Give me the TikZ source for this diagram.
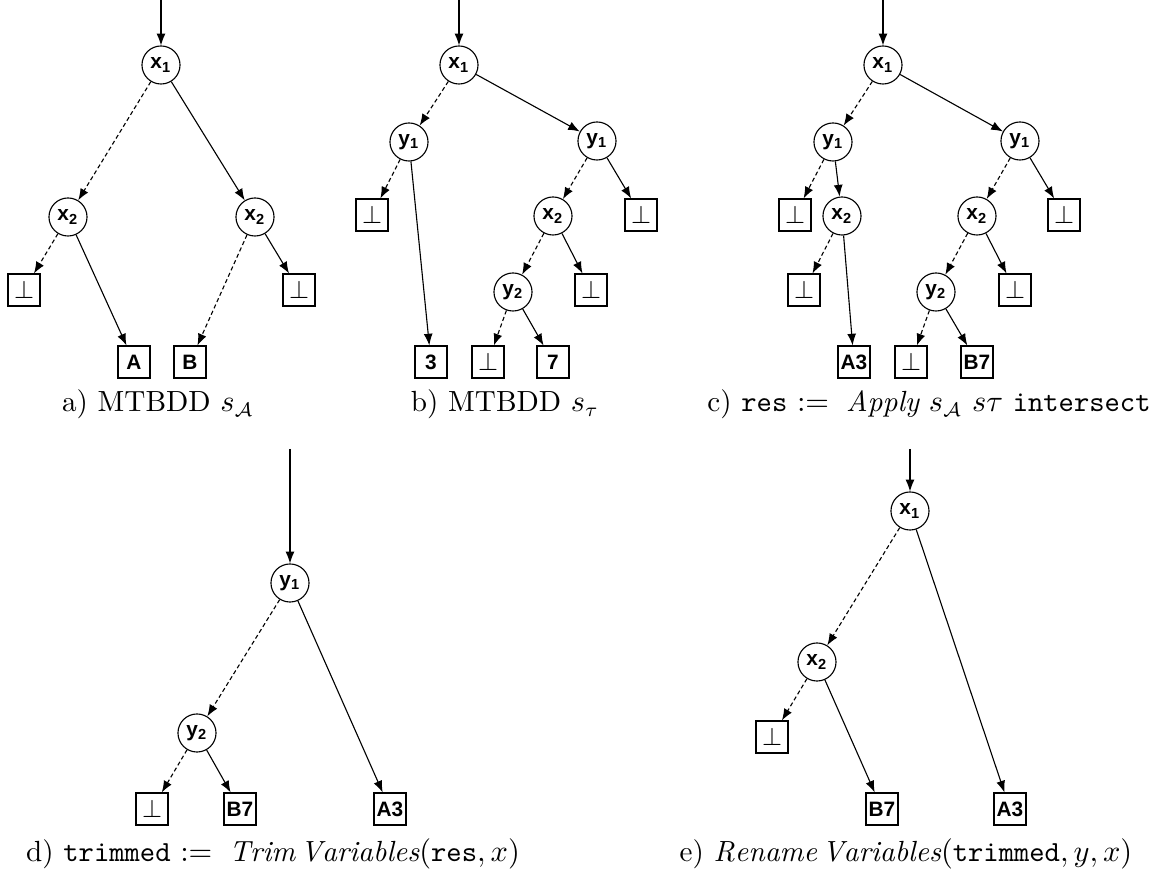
\documentclass[tikz,border=0pt]{standalone}
\usepackage{amsmath}
\usepackage{amssymb}
\usepackage{fontspec}
\newfontfamily\bddfont{Liberation Sans}
\usepackage{tikz}
\usetikzlibrary{arrows.meta}

\begin{document}
\begin{tikzpicture}[x=0.36pt,y=0.36pt,yscale=-1,xscale=1,
  var/.style={circle,draw,line width=0.4pt,minimum size=13.7pt,inner sep=0pt,font=\bddfont\bfseries\fontsize{7.5}{8}\selectfont},
  term/.style={rectangle,draw,line width=0.4pt,minimum size=11.5pt,inner sep=0pt,font=\bddfont\bfseries\fontsize{7.5}{8}\selectfont},
  bot/.style={term,font=\fontsize{9.5}{10}\selectfont},
  hi/.style={line width=0.4pt,-{Latex[length=4.2pt,width=3.2pt]}},
  lo/.style={hi,dash pattern=on 1.5pt off 1pt},
  caption/.style={anchor=base,inner sep=0pt,font=\fontsize{10.5}{12}\selectfont}]
\useasboundingbox (0,0) rectangle (1164,875);

%Tree a) MTBDD s_A
\coordinate (aroot) at (161,0);
\node[var] (ax1) at (161,65) {x\textsubscript{1}};
\node[var] (ax2l) at (68,217) {x\textsubscript{2}};
\node[var] (ax2r) at (255,217) {x\textsubscript{2}};
\node[bot] (afl) at (24,290) {$\perp$};
\node[bot] (afr) at (299,290) {$\perp$};
\node[term] (aA) at (134,362) {A};
\node[term] (aB) at (190,362) {B};
\draw[hi] (aroot) -- (ax1);
\draw[lo] (ax1) -- (ax2l);
\draw[hi] (ax1) -- (ax2r);
\draw[lo] (ax2l) -- (afl);
\draw[hi] (ax2l) -- (aA);
\draw[lo] (ax2r) -- (aB);
\draw[hi] (ax2r) -- (afr);
% Text Node
\node[caption] (acap) at (158,412) {a) MTBDD $s_{\mathcal{A}}$};

%Tree b) MTBDD s_tau
\coordinate (broot) at (459,0);
\node[var] (bx1) at (459,65) {x\textsubscript{1}};
\node[var] (by1l) at (409,142) {y\textsubscript{1}};
\node[var] (by1r) at (597,141) {y\textsubscript{1}};
\node[bot] (bfl) at (372,215) {$\perp$};
\node[var] (bx2) at (553,216) {x\textsubscript{2}};
\node[bot] (bfr) at (641,215) {$\perp$};
\node[var] (by2) at (513,292) {y\textsubscript{2}};
\node[bot] (bfx) at (591,290) {$\perp$};
\node[term] (b3) at (431,362) {3};
\node[bot] (bfy) at (488,362) {$\perp$};
\node[term] (b7) at (553,362) {7};
\draw[hi] (broot) -- (bx1);
\draw[lo] (bx1) -- (by1l);
\draw[hi] (bx1) -- (by1r);
\draw[lo] (by1l) -- (bfl);
\draw[hi] (by1l) -- (b3);
\draw[lo] (by1r) -- (bx2);
\draw[hi] (by1r) -- (bfr);
\draw[lo] (bx2) -- (by2);
\draw[hi] (bx2) -- (bfx);
\draw[lo] (by2) -- (bfy);
\draw[hi] (by2) -- (b7);
% Text Node
\node[caption] (bcap) at (505,412) {b) MTBDD $s_\tau$};

%Tree c) res
\coordinate (croot) at (883,0);
\node[var] (cx1) at (883,65) {x\textsubscript{1}};
\node[var] (cy1l) at (833,142) {y\textsubscript{1}};
\node[var] (cy1r) at (1020,141) {y\textsubscript{1}};
\node[bot] (cfl) at (795,215) {$\perp$};
\node[var] (cx2l) at (842,216) {x\textsubscript{2}};
\node[var] (cx2r) at (977,216) {x\textsubscript{2}};
\node[bot] (cfr) at (1064,215) {$\perp$};
\node[bot] (cfl2) at (804,290) {$\perp$};
\node[var] (cy2) at (936,292) {y\textsubscript{2}};
\node[bot] (cfr2) at (1015,290) {$\perp$};
\node[term] (cA3) at (854,362) {A3};
\node[bot] (cfy) at (911,362) {$\perp$};
\node[term] (cB7) at (977,362) {B7};
\draw[hi] (croot) -- (cx1);
\draw[lo] (cx1) -- (cy1l);
\draw[hi] (cx1) -- (cy1r);
\draw[lo] (cy1l) -- (cfl);
\draw[hi] (cy1l) -- (cx2l);
\draw[lo] (cx2l) -- (cfl2);
\draw[hi] (cx2l) -- (cA3);
\draw[lo] (cy1r) -- (cx2r);
\draw[hi] (cy1r) -- (cfr);
\draw[lo] (cx2r) -- (cy2);
\draw[hi] (cx2r) -- (cfr2);
\draw[lo] (cy2) -- (cfy);
\draw[hi] (cy2) -- (cB7);
% Text Node
\node[caption] (ccap) at (929,412) {c) \texttt{res} $:=\; \mathit{Apply}\ s_{\mathcal{A}}\ s\tau$ \texttt{intersect}};

%Tree d) trimmed
\coordinate (droot) at (290,449);
\node[var] (dy1) at (290,583) {y\textsubscript{1}};
\node[var] (dy2) at (197,733) {y\textsubscript{2}};
\node[bot] (dfy) at (152,809) {$\perp$};
\node[term] (dB7) at (240,809) {B7};
\node[term] (dA3) at (390,809) {A3};
\draw[hi] (droot) -- (dy1);
\draw[lo] (dy1) -- (dy2);
\draw[hi] (dy1) -- (dA3);
\draw[lo] (dy2) -- (dfy);
\draw[hi] (dy2) -- (dB7);
% Text Node
\node[caption] (dcap) at (273,862) {d) \texttt{trimmed} $:=\; \mathit{Trim}\,\mathit{Variables}(\texttt{res}, x)$};

%Tree e) renamed
\coordinate (eroot) at (910,449);
\node[var] (ex1) at (910,511) {x\textsubscript{1}};
\node[var] (ex2) at (817,662) {x\textsubscript{2}};
\node[bot] (ef) at (772,737) {$\perp$};
\node[term] (eB7) at (882,809) {B7};
\node[term] (eA3) at (1010,809) {A3};
\draw[hi] (eroot) -- (ex1);
\draw[lo] (ex1) -- (ex2);
\draw[hi] (ex1) -- (eA3);
\draw[lo] (ex2) -- (ef);
\draw[hi] (ex2) -- (eB7);
% Text Node
\node[caption] (ecap) at (906,862) {e) $\mathit{Rename}\,\mathit{Variables}(\texttt{trimmed}, y, x)$};

\end{tikzpicture}
\end{document}
